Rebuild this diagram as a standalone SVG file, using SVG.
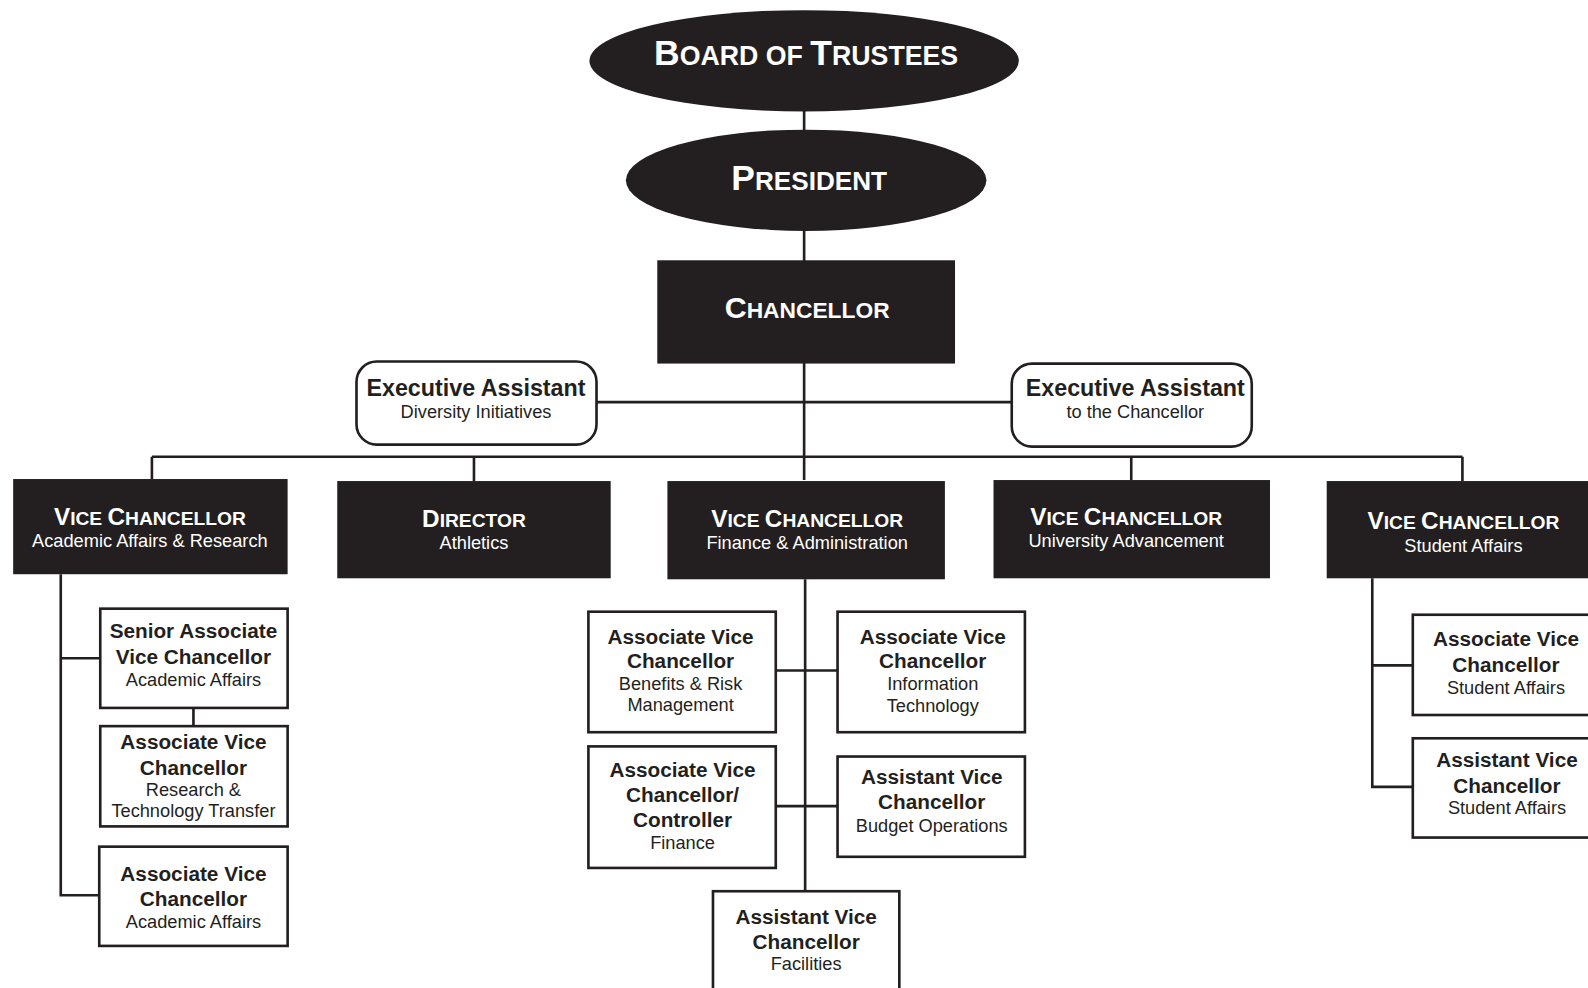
<svg xmlns="http://www.w3.org/2000/svg" width="1588" height="988" viewBox="0 0 1588 988">
<style>
.bg{fill:#ffffff}
.dk{fill:#231f20}
.box{fill:#ffffff;stroke:#231f20;stroke-width:2.6}
.ln{fill:none;stroke:#231f20;stroke-width:2.6}
text{font-family:"Liberation Sans",Arial,Helvetica,sans-serif;text-anchor:middle}
.wt{fill:#ffffff;font-weight:bold}
.ws{fill:#ffffff;font-size:18px}
.bt{fill:#231f20;font-weight:bold;font-size:20.5px}
.bs{fill:#231f20;font-size:18px}
.ea{font-size:23px}
</style>
<rect class="bg" x="0" y="0" width="1588" height="988"/>
<g id="chart" transform="scale(1.012755)">
<g id="connectors">
<line class="ln" x1="794" y1="105" x2="794" y2="474"/>
<line class="ln" x1="589" y1="397" x2="999" y2="397"/>
<line class="ln" x1="150" y1="451" x2="1444" y2="451"/>
<line class="ln" x1="150" y1="451" x2="150" y2="473"/>
<line class="ln" x1="468" y1="451" x2="468" y2="475"/>
<line class="ln" x1="1117" y1="451" x2="1117" y2="474"/>
<line class="ln" x1="1444" y1="451" x2="1444" y2="475"/>
<polyline class="ln" points="60,567 60,884 98,884"/>
<line class="ln" x1="60" y1="650" x2="99" y2="650"/>
<line class="ln" x1="191" y1="699" x2="191" y2="717"/>
<line class="ln" x1="795" y1="572" x2="795" y2="880"/>
<line class="ln" x1="766" y1="662" x2="827" y2="662"/>
<line class="ln" x1="766" y1="796" x2="827" y2="796"/>
<polyline class="ln" points="1355,571 1355,777 1395,777"/>
<line class="ln" x1="1355" y1="657" x2="1395" y2="657"/>
</g>
<g id="board">
<ellipse class="dk" cx="794" cy="60" rx="212" ry="50"/>
<text class="wt" x="796" y="64"><tspan font-size="35">B</tspan><tspan font-size="26.4">OARD OF </tspan><tspan font-size="35">T</tspan><tspan font-size="26.4">RUSTEES</tspan></text>
</g>
<g id="president">
<ellipse class="dk" cx="796" cy="178" rx="178" ry="50"/>
<text class="wt" x="799" y="188"><tspan font-size="35">P</tspan><tspan font-size="25.8">RESIDENT</tspan></text>
</g>
<g id="chancellor">
<rect class="dk" x="649" y="257" width="294" height="102"/>
<text class="wt" x="797" y="314"><tspan font-size="30">C</tspan><tspan font-size="22.5">HANCELLOR</tspan></text>
</g>
<g id="ea-diversity">
<rect class="box" x="352" y="357" width="237" height="82" rx="20"/>
<text class="bt ea" x="470" y="391">Executive Assistant</text>
<text class="bs" x="470" y="413">Diversity Initiatives</text>
</g>
<g id="ea-chancellor">
<rect class="box" x="999" y="359" width="237" height="82" rx="20"/>
<text class="bt ea" x="1121" y="391">Executive Assistant</text>
<text class="bs" x="1121" y="413">to the Chancellor</text>
</g>
<g id="vc-academic">
<rect class="dk" x="13" y="473" width="271" height="94"/>
<text class="wt" x="148" y="518"><tspan font-size="24">V</tspan><tspan font-size="19">ICE </tspan><tspan font-size="24">C</tspan><tspan font-size="19">HANCELLOR</tspan></text>
<text class="ws" x="148" y="540">Academic Affairs &amp; Research</text>
</g>
<g id="director-athletics">
<rect class="dk" x="333" y="475" width="270" height="96"/>
<text class="wt" x="468" y="520"><tspan font-size="24">D</tspan><tspan font-size="19">IRECTOR</tspan></text>
<text class="ws" x="468" y="542">Athletics</text>
</g>
<g id="vc-finance">
<rect class="dk" x="659" y="475" width="274" height="97"/>
<text class="wt" x="797" y="520"><tspan font-size="24">V</tspan><tspan font-size="19">ICE </tspan><tspan font-size="24">C</tspan><tspan font-size="19">HANCELLOR</tspan></text>
<text class="ws" x="797" y="542">Finance &amp; Administration</text>
</g>
<g id="vc-advancement">
<rect class="dk" x="981" y="474" width="273" height="97"/>
<text class="wt" x="1112" y="518"><tspan font-size="24">V</tspan><tspan font-size="19">ICE </tspan><tspan font-size="24">C</tspan><tspan font-size="19">HANCELLOR</tspan></text>
<text class="ws" x="1112" y="540">University Advancement</text>
</g>
<g id="vc-student">
<rect class="dk" x="1310" y="475" width="290" height="96"/>
<text class="wt" x="1445" y="522"><tspan font-size="24">V</tspan><tspan font-size="19">ICE </tspan><tspan font-size="24">C</tspan><tspan font-size="19">HANCELLOR</tspan></text>
<text class="ws" x="1445" y="545">Student Affairs</text>
</g>
<g id="savc-academic">
<rect class="box" x="99" y="601" width="185" height="98"/>
<text class="bt" x="191" y="630">Senior Associate</text>
<text class="bt" x="191" y="656">Vice Chancellor</text>
<text class="bs" x="191" y="677">Academic Affairs</text>
</g>
<g id="avc-research">
<rect class="box" x="99" y="717" width="185" height="99"/>
<text class="bt" x="191" y="740">Associate Vice</text>
<text class="bt" x="191" y="765">Chancellor</text>
<text class="bs" x="191" y="786">Research &amp;</text>
<text class="bs" x="191" y="807">Technology Transfer</text>
</g>
<g id="avc-academic">
<rect class="box" x="98" y="836" width="186" height="98"/>
<text class="bt" x="191" y="870">Associate Vice</text>
<text class="bt" x="191" y="895">Chancellor</text>
<text class="bs" x="191" y="916">Academic Affairs</text>
</g>
<g id="avc-benefits">
<rect class="box" x="581" y="604" width="185" height="119"/>
<text class="bt" x="672" y="636">Associate Vice</text>
<text class="bt" x="672" y="660">Chancellor</text>
<text class="bs" x="672" y="681">Benefits &amp; Risk</text>
<text class="bs" x="672" y="702">Management</text>
</g>
<g id="avc-it">
<rect class="box" x="827" y="604" width="185" height="119"/>
<text class="bt" x="921" y="636">Associate Vice</text>
<text class="bt" x="921" y="660">Chancellor</text>
<text class="bs" x="921" y="681">Information</text>
<text class="bs" x="921" y="703">Technology</text>
</g>
<g id="avc-controller">
<rect class="box" x="581" y="737" width="185" height="120"/>
<text class="bt" x="674" y="767">Associate Vice</text>
<text class="bt" x="674" y="792">Chancellor/</text>
<text class="bt" x="674" y="817">Controller</text>
<text class="bs" x="674" y="838">Finance</text>
</g>
<g id="asvc-budget">
<rect class="box" x="827" y="747" width="185" height="99"/>
<text class="bt" x="920" y="774">Assistant Vice</text>
<text class="bt" x="920" y="799">Chancellor</text>
<text class="bs" x="920" y="822">Budget Operations</text>
</g>
<g id="asvc-facilities">
<rect class="box" x="704" y="880" width="184" height="120"/>
<text class="bt" x="796" y="912">Assistant Vice</text>
<text class="bt" x="796" y="937">Chancellor</text>
<text class="bs" x="796" y="958">Facilities</text>
</g>
<g id="avc-student">
<rect class="box" x="1395" y="607" width="200" height="99"/>
<text class="bt" x="1487" y="638">Associate Vice</text>
<text class="bt" x="1487" y="664">Chancellor</text>
<text class="bs" x="1487" y="685">Student Affairs</text>
</g>
<g id="asvc-student">
<rect class="box" x="1395" y="729" width="200" height="98"/>
<text class="bt" x="1488" y="757">Assistant Vice</text>
<text class="bt" x="1488" y="783">Chancellor</text>
<text class="bs" x="1488" y="804">Student Affairs</text>
</g>
</g>
</svg>
